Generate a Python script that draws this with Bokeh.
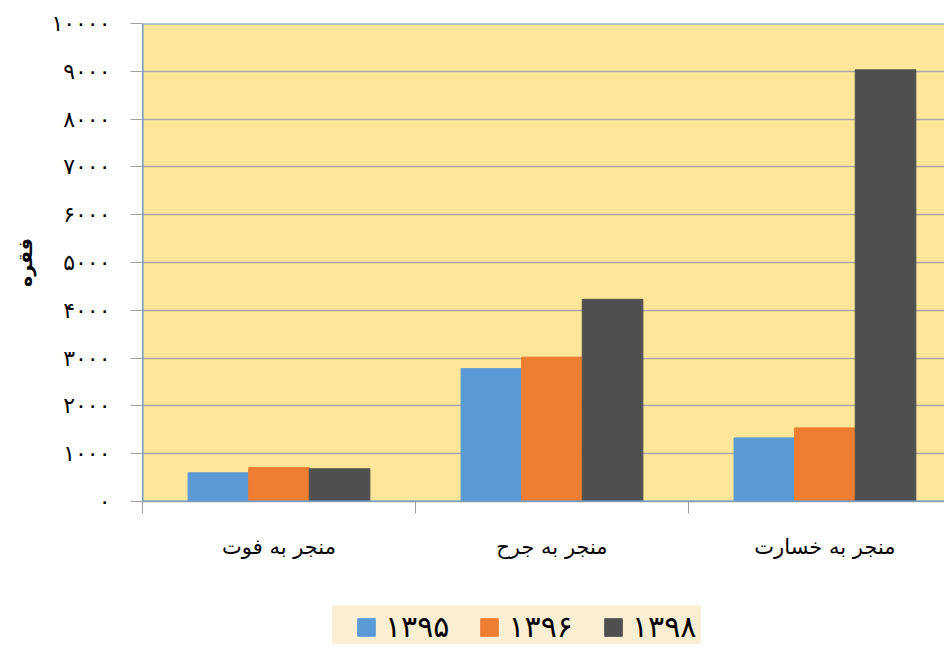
from bokeh.plotting import figure
from bokeh.models import ColumnDataSource, FixedTicker, Legend, LegendItem, BoxAnnotation, Range1d, Span
from bokeh.layouts import column
from bokeh.transform import dodge
from bokeh.embed import file_html
from bokeh.resources import INLINE

categories = ["منجر به فوت", "منجر به جرح", "منجر به خسارت"]
years = ["۱۳۹۵", "۱۳۹۶", "۱۳۹۸"]
v1395 = [600, 2780, 1330]
v1396 = [710, 3020, 1540]
v1398 = [685, 4230, 9030]
y_ticks = [0, 1000, 2000, 3000, 4000, 5000, 6000, 7000, 8000, 9000, 10000]
y_tick_labels = ["۰", "۱۰۰۰", "۲۰۰۰", "۳۰۰۰", "۴۰۰۰", "۵۰۰۰", "۶۰۰۰", "۷۰۰۰", "۸۰۰۰", "۹۰۰۰", "۱۰۰۰۰"]
y_label = "فقره"
colors = ["#5B9BD5", "#ED7D31", "#4F4F4F"]

FONT = "DejaVu Sans"
NAN = float("nan")

centers = [i + 0.5 for i in range(len(categories))]
source = ColumnDataSource(dict(x=centers, a=v1395, b=v1396, c=v1398))

p = figure(width=944, height=581, x_range=(0, 2.938), y_range=(0, 10000),
           output_backend="svg", toolbar_location=None,
           min_border_left=142, min_border_right=0, min_border_top=23, min_border_bottom=80)
p.background_fill_color = "#FFE699"
p.border_fill_color = "white"
p.outline_line_color = None

bw = 0.222
r1 = p.vbar(x=dodge("x", -bw, range=p.x_range), top="a", width=bw, source=source, color=colors[0])
r2 = p.vbar(x=dodge("x", 0, range=p.x_range), top="b", width=bw, source=source, color=colors[1])
r3 = p.vbar(x=dodge("x", bw, range=p.x_range), top="c", width=bw, source=source, color=colors[2])

# plot-area border (left, top, bottom; the right side runs off the page)
for sp in (Span(location=0, dimension="height"), Span(location=10000, dimension="width"),
           Span(location=0, dimension="width")):
    sp.line_color = "#5B9BD5"
    sp.line_width = 2
    p.add_layout(sp)

# Y axis
p.yaxis.ticker = FixedTicker(ticks=y_ticks, minor_ticks=[])
p.yaxis.major_label_overrides = {t: l for t, l in zip(y_ticks, y_tick_labels)}
p.yaxis.major_label_text_font = FONT
p.yaxis.major_label_text_font_size = "22px"
p.yaxis.major_label_text_color = "black"
p.yaxis.major_tick_out = 12
p.yaxis.major_tick_in = 0
p.yaxis.major_tick_line_color = "#A0A0A0"
p.yaxis.axis_line_color = "#A0A0A0"
p.yaxis.major_label_standoff = 20
p.yaxis.axis_label = y_label
p.yaxis.axis_label_text_font = FONT
p.yaxis.axis_label_text_font_size = "19px"
p.yaxis.axis_label_text_font_style = "bold"
p.yaxis.axis_label_text_color = "black"
p.yaxis.axis_label_standoff = 12

# X axis
p.xaxis.ticker = FixedTicker(ticks=centers, minor_ticks=[0, 1, 2, 3])
p.xaxis.major_label_overrides = {c: n for c, n in zip(centers, categories)}
p.xaxis.major_tick_line_color = None
p.xaxis.major_tick_out = 0
p.xaxis.minor_tick_line_color = "#A0A0A0"
p.xaxis.minor_tick_out = 12
p.xaxis.minor_tick_in = 0
p.xaxis.axis_line_color = "#A0A0A0"
p.xaxis.axis_line_width = 1.5
p.xaxis.major_label_text_font = FONT
p.xaxis.major_label_text_font_size = "21px"
p.xaxis.major_label_text_color = "black"
p.xaxis.major_label_standoff = 21

p.xgrid.grid_line_color = None
p.ygrid.ticker = FixedTicker(ticks=y_ticks)
p.ygrid.grid_line_color = "#A6A6A6"
p.ygrid.grid_line_width = 1.5

# Legend strip beneath the chart (frame aligned with the chart above; units = pixels)
p2 = figure(width=944, height=63, x_range=Range1d(142, 944), y_range=Range1d(644, 581),
            x_axis_type=None, y_axis_type=None,
            output_backend="svg", toolbar_location=None,
            min_border_left=142, min_border_right=0, min_border_top=0, min_border_bottom=0)
p2.outline_line_color = None
p2.grid.grid_line_color = None
p2.background_fill_color = "white"
p2.border_fill_color = "white"
p2.add_layout(BoxAnnotation(left=332, right=700, top=605, fill_color="#FBEFD3",
                            fill_alpha=1.0, line_color="#F3E3C0", line_width=1))
# legend proxies: one NaN row each, so nothing is drawn in the strip itself
e1 = p2.vbar(x=[NAN], top=[NAN], width=1, color=colors[0])
e2 = p2.vbar(x=[NAN], top=[NAN], width=1, color=colors[1])
e3 = p2.vbar(x=[NAN], top=[NAN], width=1, color=colors[2])

legend = Legend(items=[LegendItem(label=years[0], renderers=[e1]),
                       LegendItem(label=years[1], renderers=[e2]),
                       LegendItem(label=years[2], renderers=[e3])],
                orientation="horizontal", location=(213, 0))
legend.background_fill_alpha = 0.0
legend.border_line_color = None
legend.label_text_font = FONT
legend.label_text_font_size = "30px"
legend.label_text_color = "black"
legend.glyph_width = 22
legend.glyph_height = 22
legend.label_standoff = 8
legend.spacing = 29
legend.padding = 0
legend.margin = 0
p2.add_layout(legend, "center")

layout = column(p, p2, spacing=0)
open("out.html", "w").write(file_html(layout, INLINE))
